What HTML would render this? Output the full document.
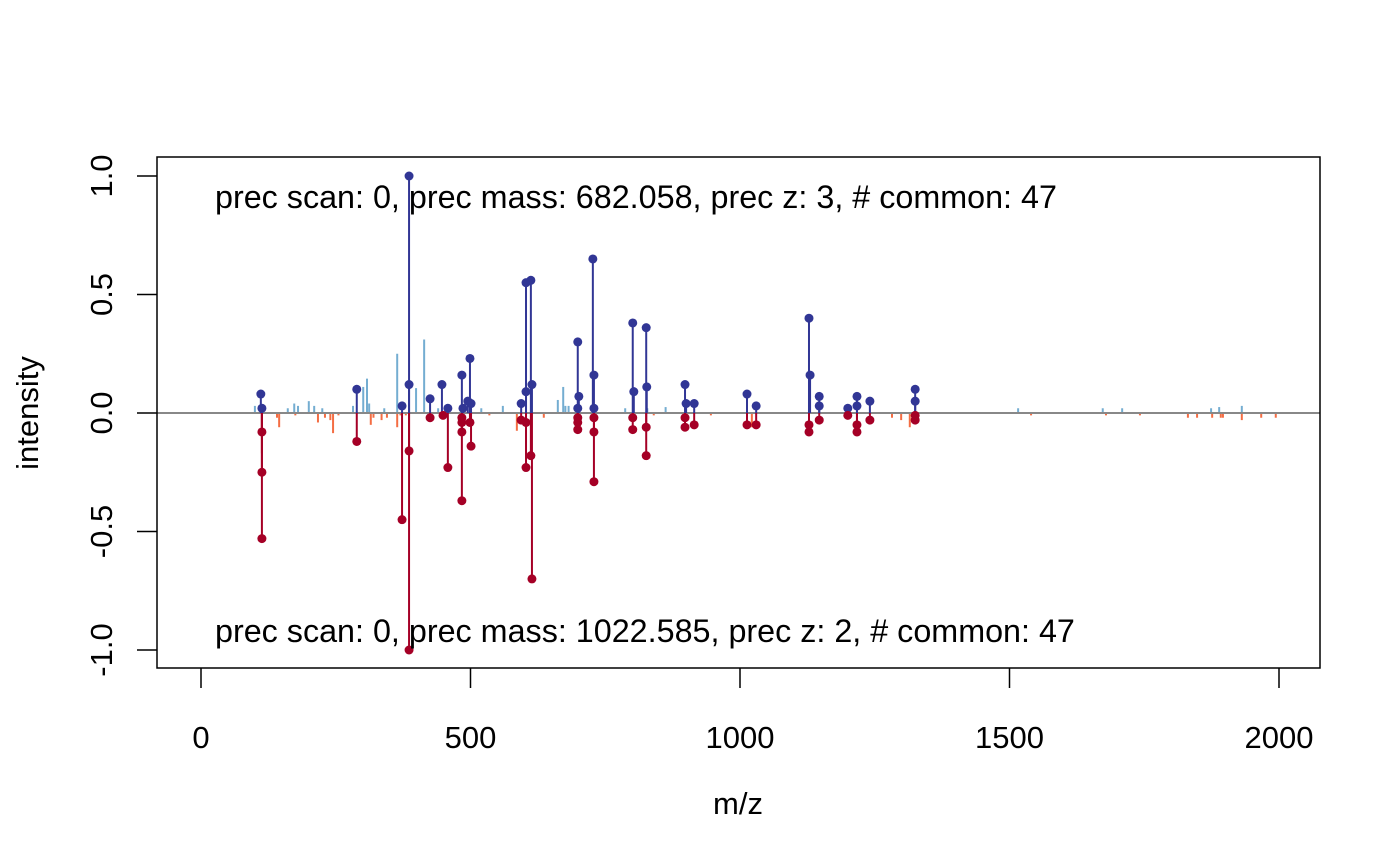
<!DOCTYPE html>
<html><head><meta charset="utf-8"><style>
html,body{margin:0;padding:0;background:#fff;}
svg{display:block;font-family:"Liberation Sans",Arial,sans-serif;}
</style></head><body>
<svg id="chart" width="1400" height="865" viewBox="0 0 1400 865">
<rect x="0" y="0" width="1400" height="865" fill="#fff"/>
<g id="marks"></g>
<g id="axes"></g>
</svg>
<script>
// ---- data ----
const topUnmatchedMz = [100,161,173,180,200,210,225,282,301,308,312,340,364,399,414,440,520,560,662,672,676,682,700,787,828,862,1516,1673,1709,1874,1889,1931];
const topUnmatchedInt = [0.03,0.02,0.04,0.03,0.05,0.03,0.02,0.03,0.11,0.145,0.04,0.02,0.25,0.105,0.31,0.02,0.02,0.03,0.055,0.11,0.03,0.03,0.02,0.02,0.02,0.025,0.02,0.02,0.02,0.02,0.025,0.03];
const botUnmatchedMz = [113,141,145,175,217,230,240,245,255,315,320,335,345,364,370,380,535,586,636,840,946,1013,1022,1282,1299,1315,1540,1679,1742,1831,1848,1876,1892,1896,1931,1967,1994];
const botUnmatchedInt = [0.17,0.02,0.06,0.01,0.04,0.02,0.03,0.085,0.01,0.05,0.02,0.03,0.02,0.06,0.01,0.01,0.01,0.075,0.02,0.01,0.01,0.06,0.06,0.02,0.03,0.06,0.01,0.01,0.01,0.02,0.02,0.02,0.02,0.02,0.03,0.02,0.02];
const topMatchedMz = [111,113,289,386,386,373,425,447,458,484,486,495,499,501,594,603,603,612,614,699,701,699,727,729,729,801,803,826,827,898,900,915,1013,1030,1128,1130,1147,1147,1200,1217,1217,1241,1325,1325];
const topMatchedInt = [0.08,0.02,0.10,1.0,0.12,0.03,0.06,0.12,0.02,0.16,0.02,0.05,0.23,0.04,0.04,0.55,0.09,0.56,0.12,0.30,0.07,0.02,0.65,0.16,0.02,0.38,0.09,0.36,0.11,0.12,0.04,0.04,0.08,0.03,0.40,0.16,0.07,0.03,0.02,0.07,0.03,0.05,0.10,0.05];
const botMatchedMz = [113,113,113,289,373,386,386,425,449,458,484,484,484,484,499,501,594,603,603,612,614,699,699,699,729,729,729,801,801,826,826,898,898,915,1013,1030,1128,1128,1147,1200,1217,1217,1241,1325,1325];
const botMatchedInt = [0.08,0.25,0.53,0.12,0.45,0.16,1.0,0.02,0.01,0.23,0.02,0.04,0.08,0.37,0.04,0.14,0.03,0.04,0.23,0.18,0.70,0.04,0.07,0.02,0.02,0.08,0.29,0.07,0.02,0.06,0.18,0.02,0.06,0.05,0.05,0.05,0.05,0.08,0.03,0.01,0.05,0.08,0.03,0.01,0.03];
const xTicks = [0,500,1000,1500,2000];
const yTicks = [-1.0,-0.5,0.0,0.5,1.0];
const yTickLabels = ["-1.0","-0.5","0.0","0.5","1.0"];
const topLabel = "prec scan: 0, prec mass: 682.058, prec z: 3, # common: 47";
const botLabel = "prec scan: 0, prec mass: 1022.585, prec z: 2, # common: 47";

// ---- scales ----
const X = mz => 201 + mz * (1078/2000);
const Y = v => 413 - v * 237;
const NS = "http://www.w3.org/2000/svg";
const marks = document.getElementById('marks');
const axes = document.getElementById('axes');
function mk(tag, attrs, parent){
  const e = document.createElementNS(NS, tag);
  for (const k in attrs) e.setAttribute(k, attrs[k]);
  parent.appendChild(e);
  return e;
}

topUnmatchedMz.forEach((m,i)=>{
  const l = mk('line',{x1:X(m),x2:X(m),y1:Y(0),y2:Y(topUnmatchedInt[i]),stroke:'#74ADD1','stroke-width':2},marks);
  
  
});
botUnmatchedMz.forEach((m,i)=>{
  const l = mk('line',{x1:X(m),x2:X(m),y1:Y(0),y2:Y(-botUnmatchedInt[i]),stroke:'#F46D43','stroke-width':2},marks);
  
  
});
const base = mk('line',{x1:157,x2:1320,y1:Y(0),y2:Y(0),stroke:'#888','stroke-width':2},marks);


topMatchedMz.forEach((m,i)=>{
  const l = mk('line',{x1:X(m),x2:X(m),y1:Y(0),y2:Y(topMatchedInt[i]),stroke:'#313695','stroke-width':2},marks);
  
  
});
botMatchedMz.forEach((m,i)=>{
  const l = mk('line',{x1:X(m),x2:X(m),y1:Y(0),y2:Y(-botMatchedInt[i]),stroke:'#A50026','stroke-width':2},marks);
  
  
});
topMatchedMz.forEach((m,i)=>{
  const c = mk('circle',{cx:X(m),cy:Y(topMatchedInt[i]),r:4.5,fill:'#313695'},marks);
  
  
});
botMatchedMz.forEach((m,i)=>{
  const c = mk('circle',{cx:X(m),cy:Y(-botMatchedInt[i]),r:4.5,fill:'#A50026'},marks);
  
  
});

const fr = mk('rect',{x:157,y:157,width:1163,height:511,fill:'none',stroke:'#000','stroke-width':1.5},axes);


xTicks.forEach(t=>{
  const tk = mk('line',{x1:X(t),x2:X(t),y1:668,y2:688,stroke:'#000','stroke-width':1.5},axes);
  
  
  const tx = mk('text',{x:X(t),y:748,'text-anchor':'middle','font-size':31,fill:'#000'},axes);
  tx.textContent = String(t);
  
  
});
yTicks.forEach((t,i)=>{
  const tk = mk('line',{x1:137,x2:157,y1:Y(t),y2:Y(t),stroke:'#000','stroke-width':1.5},axes);
  
  
  const tx = mk('text',{x:0,y:0,'text-anchor':'middle','font-size':31,fill:'#000',transform:`translate(112,${Y(t)}) rotate(-90)`},axes);
  tx.textContent = yTickLabels[i];
  
  
});
const xt = mk('text',{x:738,y:814,'text-anchor':'middle','font-size':31,fill:'#000'},axes);
xt.textContent = 'm/z';


const yt = mk('text',{x:0,y:0,'text-anchor':'middle','font-size':31,fill:'#000',transform:'translate(38,413) rotate(-90)'},axes);
yt.textContent = 'intensity';


const t1 = mk('text',{x:215,y:208,'font-size':32.3,fill:'#000'},axes);
t1.textContent = topLabel;


const t2 = mk('text',{x:215,y:642,'font-size':32.3,fill:'#000'},axes);
t2.textContent = botLabel;


</script>
</body></html>
